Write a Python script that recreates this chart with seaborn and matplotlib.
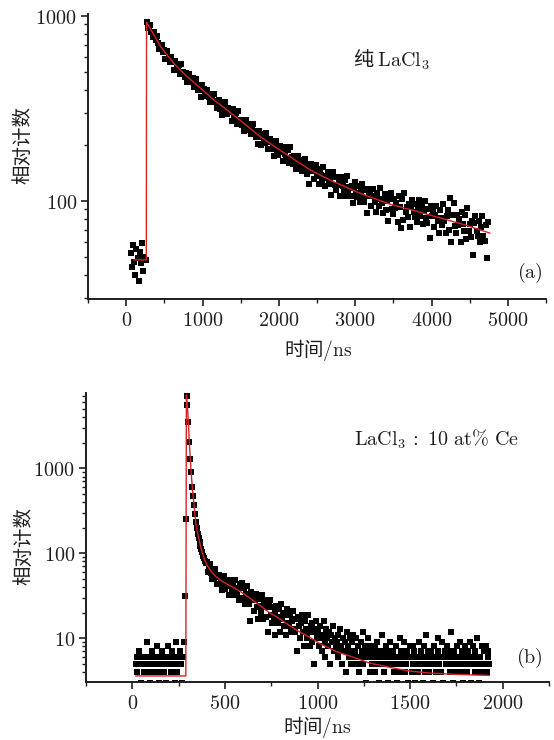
import numpy as np
import pandas as pd
import matplotlib
matplotlib.use("Agg")
import matplotlib.pyplot as plt
import seaborn as sns
from matplotlib.ticker import FixedLocator, MultipleLocator, FuncFormatter, NullFormatter, LogLocator

# ---------------- panel (a): pure LaCl3 ----------------
t0_a, dt_a = 60, 15          # channel start / width (ns)
bg_a = [52, 44, 58, 47, 40, 55, 49, 37, 53, 46, 59, 42, 50, 48]
row1_a = [925, 862, 885, 898, 823, 769, 820, 776, 738, 784, 713, 667, 695, 698, 638, 651, 588, 637, 645, 590]
row2_a = [564, 601, 566, 571, 512, 573, 536, 514, 543, 485, 547, 490, 496, 468, 492, 442, 474, 485, 451, 437]
row3_a = [461, 415, 436, 457, 414, 400, 424, 366, 422, 397, 404, 368, 386, 400, 366, 342, 378, 359, 343, 378]
row4_a = [342, 319, 346, 353, 316, 332, 292, 332, 341, 307, 294, 320, 301, 307, 271, 313, 290, 278, 300, 262]
row5_a = [308, 268, 275, 256, 275, 240, 265, 274, 251, 242, 260, 230, 245, 259, 231, 223, 239, 202, 240, 223]
row6_a = [200, 229, 216, 206, 234, 207, 192, 211, 217, 191, 203, 175, 204, 212, 187, 178, 198, 185, 190, 164]
row7_a = [196, 180, 171, 188, 160, 195, 167, 172, 159, 174, 149, 169, 176, 159, 152, 167, 145, 157, 168, 148]
row8_a = [140, 156, 124, 159, 146, 152, 132, 145, 156, 136, 124, 148, 138, 130, 153, 133, 121, 137, 143, 123]
row9_a = [132, 108, 135, 143, 122, 114, 134, 122, 128, 106, 135, 121, 114, 130, 106, 137, 113, 119, 107, 121]
row10_a = [98, 118, 127, 110, 105, 120, 99, 112, 124, 104, 99, 114, 86, 116, 106, 112, 94, 106, 116, 99]
row11_a = [87, 111, 102, 94, 118, 98, 86, 103, 109, 89, 100, 78, 103, 111, 91, 85, 103, 92, 98, 77]
row12_a = [106, 93, 71, 103, 79, 111, 87, 93, 82, 96, 72, 94, 101, 87, 82, 96, 77, 89, 101, 83]
row13_a = [95, 75, 88, 100, 81, 76, 91, 63, 94, 83, 89, 72, 84, 94, 78, 67, 89, 81, 74, 96]
row14_a = [78, 67, 83, 89, 70, 104, 60, 84, 98, 73, 67, 84, 74, 80, 60, 87, 75, 69, 84, 62]
row15_a = [92, 69, 75, 64, 78, 51, 76, 83, 69, 65, 78, 60, 72, 83, 65, 61, 74, 49, 77]

fit_a_t = [100, 264, 267, 277, 350, 451, 550, 625, 700, 800, 950, 1148, 1300, 1497,
           1761, 2000, 2412, 2700, 3065, 3458, 3800, 4111, 4450, 4765]
fit_a_y = [48, 48, 925, 913, 808, 683, 605, 555, 515, 470, 415, 352, 315, 272,
           222, 190, 147, 128, 110, 96, 88, 81, 74, 67]

# ---------------- panel (b): LaCl3:10 at% Ce ----------------
t0_b, dt_b = 18, 5
bg_b = [5, 6, 4, 5, 7, 5, 3, 6, 5, 4, 6, 5, 9, 4, 5, 6, 3, 5, 7, 6,
        4, 5, 5, 8, 6, 3, 4, 6, 5, 7, 5, 4, 6, 3, 5, 8, 6, 5, 4, 7,
        5, 6, 3, 5, 9, 4, 6, 5, 7, 5, 3, 6, 9]
rise_b = [31, 250, 7100, 5600, 3500, 2050, 1300, 900, 610, 470, 370, 290,
          232, 196, 170, 150, 136, 121, 112, 104, 93, 88, 80, 77]
b1 = [78, 61, 69, 74, 59, 50, 64, 57, 51, 65, 52, 44, 54, 56, 44, 49, 37, 51, 54, 43]
b2 = [38, 49, 42, 45, 32, 49, 41, 37, 46, 32, 49, 36, 39, 32, 39, 28, 44, 41, 45, 30]
b3 = [39, 25, 33, 41, 28, 25, 33, 16, 35, 28, 31, 21, 28, 33, 23, 17, 29, 24, 20, 32]
b4 = [23, 17, 26, 28, 18, 23, 12, 24, 28, 19, 15, 23, 18, 21, 11, 24, 18, 15, 22, 12]
b5 = [25, 17, 19, 14, 20, 11, 19, 22, 15, 14, 19, 12, 16, 21, 13, 12, 17, 7, 18, 14]
b6 = [17, 10, 15, 19, 12, 8, 16, 13, 10, 19, 12, 8, 14, 15, 9, 12, 5, 13, 16, 10]
b7 = [12, 8, 14, 10, 7, 11, 16, 9, 6, 13, 10, 8, 12, 5, 11, 9, 14, 7, 10, 8]
b8 = [9, 6, 11, 7, 13, 8, 5, 10, 7, 9, 4, 12, 8, 6, 10, 7, 5, 9, 11, 6]
b9 = [7, 10, 5, 8, 4, 6, 9, 7, 12, 5, 6, 8, 3, 7, 10, 6, 4, 8, 5, 7]
b10 = [6, 4, 8, 5, 9, 7, 3, 6, 5, 11, 7, 4, 6, 8, 5, 3, 7, 6, 9, 5]
b11 = [5, 7, 4, 6, 8, 3, 5, 6, 10, 4, 7, 5, 6, 9, 4, 5, 7, 3, 6, 8]
b12 = [6, 4, 5, 8, 7, 3, 6, 5, 4, 9, 6, 7, 5, 3, 8, 4, 6, 11, 5, 7]
b13 = [4, 6, 7, 5, 3, 8, 6, 4, 5, 10, 7, 5, 6, 4, 9, 3, 6, 7, 5, 8]
b14 = [5, 7, 4, 6, 12, 5, 3, 7, 6, 4, 8, 5, 6, 9, 4, 7, 3, 5, 6, 8]
b15 = [6, 4, 7, 5, 9, 3, 6, 8, 5, 4, 7, 6, 10, 5, 3, 6, 4, 8, 5, 7]
b16 = [5, 8, 4, 6, 7, 5]

fit_b_t = [18, 289, 292, 298, 303, 307, 312, 318, 325, 334, 343, 352, 361, 370, 379,
           392, 406, 428, 452, 490, 524, 570, 614, 660, 704, 740, 777, 840, 900, 960,
           1011, 1100, 1200, 1282, 1400, 1500, 1600, 1750, 1928]
fit_b_y = [3.6, 3.6, 7300, 5300, 3400, 2200, 1400, 880, 560, 355, 228, 175, 143, 118, 100,
           82, 71, 60, 53, 46, 42, 37, 32, 27, 23, 20, 18, 14.5, 12, 10.2,
           8.7, 7.0, 5.9, 5.1, 4.5, 4.1, 3.9, 3.75, 3.65]

xticks_a = [0, 1000, 2000, 3000, 4000, 5000]
yticks_a = [100, 1000]
xticks_b = [0, 500, 1000, 1500, 2000]
yticks_b = [10, 100, 1000]

label_a = r'纯 $\mathrm{LaCl_3}$'
label_b = r'$\mathrm{LaCl_3\,:\ 10\ at\%\ Ce}$'
xlabel = r'时间$/\mathrm{ns}$'
ylabel = '相对计数'

# ---------------- build frames ----------------
counts_a = bg_a + row1_a + row2_a + row3_a + row4_a + row5_a + row6_a + row7_a + row8_a \
    + row9_a + row10_a + row11_a + row12_a + row13_a + row14_a + row15_a
counts_b = bg_b + rise_b + b1 + b2 + b3 + b4 + b5 + b6 + b7 + b8 + b9 + b10 + b11 + b12 \
    + b13 + b14 + b15 + b16
df_a = pd.DataFrame({'t': t0_a + dt_a * np.arange(len(counts_a)), 'c': counts_a})
df_b = pd.DataFrame({'t': t0_b + dt_b * np.arange(len(counts_b)), 'c': counts_b})
fa = pd.DataFrame({'t': fit_a_t, 'y': fit_a_y})
fb = pd.DataFrame({'t': fit_b_t, 'y': fit_b_y})

sns.set_style("ticks")
plt.rcParams['font.family'] = ['Noto Sans CJK SC', 'DejaVu Sans']
plt.rcParams['mathtext.fontset'] = 'cm'
plt.rcParams['axes.unicode_minus'] = False

TXT = '#1e1e1e'
fig = plt.figure(figsize=(5.54, 7.40), dpi=100)
ax1 = fig.add_axes([88 / 554, 1 - 299 / 740, 458 / 554, 285 / 740])
ax2 = fig.add_axes([86 / 554, 1 - 681.7 / 740, 463 / 554, 288.7 / 740])

fmt = FuncFormatter(lambda v, p: r'$\mathrm{%d}$' % int(round(v)))


def draw(ax, df, fit, xlim, ylim, xt, xminor, yt):
    sns.scatterplot(data=df, x='t', y='c', ax=ax, marker='s', s=21, color='black',
                    linewidth=0, zorder=2, legend=False)
    sns.lineplot(data=fit, x='t', y='y', ax=ax, color='#d42424', lw=1.0, sort=False,
                 estimator=None, zorder=3, legend=False)
    ax.set_yscale('log')
    ax.set_xlim(*xlim)
    ax.set_ylim(*ylim)
    ax.xaxis.set_major_locator(FixedLocator(xt))
    ax.xaxis.set_minor_locator(MultipleLocator(xminor))
    ax.yaxis.set_major_locator(FixedLocator(yt))
    ax.yaxis.set_minor_locator(LogLocator(base=10, subs=np.arange(2, 10)))
    ax.yaxis.set_minor_formatter(NullFormatter())
    ax.xaxis.set_major_formatter(fmt)
    ax.yaxis.set_major_formatter(fmt)
    for s in ['top', 'right']:
        ax.spines[s].set_visible(False)
    for s in ['left', 'bottom']:
        ax.spines[s].set_linewidth(1.4)
        ax.spines[s].set_color(TXT)
    ax.tick_params(which='major', direction='out', length=5, width=1.2, color=TXT,
                   labelsize=14.5, labelcolor=TXT, pad=3)
    ax.tick_params(which='minor', direction='out', length=3, width=1.0, color=TXT)
    ax.set_xlabel(xlabel, fontsize=14, color=TXT, va='center')
    ax.set_ylabel(ylabel, fontsize=14, color=TXT, va='center')


draw(ax1, df_a, fa, (-500, 5500), (29.5, 1025), xticks_a, 500, yticks_a)
draw(ax2, df_b, fb, (-250, 2250), (3.08, 7690), xticks_b, 250, yticks_b)

ax1.xaxis.set_label_coords(0.502, -0.179)
ax1.yaxis.set_label_coords(-0.142, 0.54)
ax2.xaxis.set_label_coords(0.5, -0.157)
ax2.yaxis.set_label_coords(-0.135, 0.47)

ax1.text(0.662, 0.839, label_a, transform=ax1.transAxes, ha='center', va='center',
         fontsize=14.5, color=TXT)
ax1.text(0.964, 0.091, r'$\mathrm{(a)}$', transform=ax1.transAxes, ha='center',
         va='center', fontsize=14.5, color=TXT)
ax2.text(0.757, 0.841, label_b, transform=ax2.transAxes, ha='center', va='center',
         fontsize=14.5, color=TXT)
ax2.text(0.958, 0.082, r'$\mathrm{(b)}$', transform=ax2.transAxes, ha='center',
         va='center', fontsize=14.5, color=TXT)

fig.savefig('out.png', dpi=100)
